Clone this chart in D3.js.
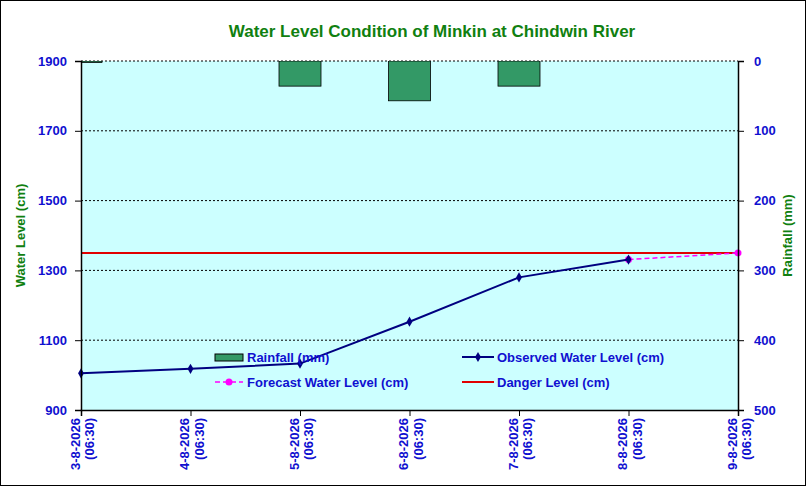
<!DOCTYPE html>
<html lang="en">
<head>
<meta charset="UTF-8">
<script src="https://d3js.org/d3.v7.min.js"></script>
<style>
  body { margin: 0; background: #fff; }
  text { font-family: "Liberation Sans Narrow", "Arial Narrow", "Liberation Sans", sans-serif; font-weight: bold; }
</style>
</head>
<body>
<script>
  // chart data
  const dates = ['3-8-2026', '4-8-2026', '5-8-2026', '6-8-2026', '7-8-2026', '8-8-2026', '9-8-2026'];
  const rainfall = [2, null, 36, 57, 36, null, null];
  const observed = [1005, 1018, 1033, 1153, 1280, 1331, null];
  const forecast = [null, null, null, null, null, 1331, 1350];
  const danger = 1350;
  const levelTicks = [900, 1100, 1300, 1500, 1700, 1900];
  const rainTicks = [0, 100, 200, 300, 400, 500];

  const W = 809, H = 489;
  const L = 81, R = 738, T = 61, B = 410;
  const blue = '#1010d0', green = '#108010';

  const svg = d3.select('body').append('svg').attr('width', W).attr('height', H);
  svg.append('rect').attr('x', 0.5).attr('y', 0.5).attr('width', 805).attr('height', 485)
    .attr('fill', '#fff').attr('stroke', '#000');

  const x = d3.scalePoint().domain(d3.range(dates.length)).range([L, R]);
  const y = d3.scaleLinear().domain([900, 1900]).range([B, T]);
  const yr = d3.scaleLinear().domain([0, 500]).range([T, B]);

  svg.append('rect').attr('x', L).attr('y', T).attr('width', R - L).attr('height', B - T)
    .attr('fill', '#ccffff');

  // gridlines
  svg.selectAll('.grid').data(levelTicks.slice(1)).enter().append('line')
    .attr('x1', L).attr('x2', R).attr('y1', d => y(d)).attr('y2', d => y(d))
    .attr('stroke', '#000').attr('stroke-dasharray', '2,2').attr('stroke-width', 1);

  // rainfall bars (clipped to plot)
  svg.append('clipPath').attr('id', 'plot').append('rect')
    .attr('x', L).attr('y', T).attr('width', R - L).attr('height', B - T);
  const bw = 42;
  svg.append('g').attr('clip-path', 'url(#plot)').selectAll('rect')
    .data(rainfall.map((v, i) => ({ v, i })).filter(d => d.v != null)).enter().append('rect')
    .attr('x', d => x(d.i) - bw / 2).attr('y', yr(0)).attr('width', bw)
    .attr('height', d => yr(d.v) - yr(0))
    .attr('fill', '#339966').attr('stroke', '#000').attr('stroke-width', 0.8);

  // danger line
  svg.append('line').attr('x1', L).attr('x2', R).attr('y1', y(danger)).attr('y2', y(danger))
    .attr('stroke', '#e00000').attr('stroke-width', 2);

  const line = d3.line().defined(d => d.v != null).x(d => x(d.i)).y(d => y(d.v));
  const obs = observed.map((v, i) => ({ v, i }));
  const fc = forecast.map((v, i) => ({ v, i }));

  svg.append('path').datum(fc).attr('d', line).attr('fill', 'none')
    .attr('stroke', '#ff00ff').attr('stroke-width', 1.5).attr('stroke-dasharray', '5,3');
  svg.selectAll('.fc').data(fc.filter(d => d.v != null)).enter().append('circle')
    .attr('cx', d => x(d.i)).attr('cy', d => y(d.v)).attr('r', 3.5).attr('fill', '#ff00ff');

  svg.append('path').datum(obs).attr('d', line).attr('fill', 'none')
    .attr('stroke', '#000080').attr('stroke-width', 2);
  svg.selectAll('.ob').data(obs.filter(d => d.v != null)).enter().append('path')
    .attr('transform', d => `translate(${x(d.i)},${y(d.v)})`)
    .attr('d', d3.symbol(d3.symbolDiamond, 30)).attr('fill', '#000080');

  // axes
  const axL = svg.append('g').attr('transform', `translate(${L},0)`)
    .call(d3.axisLeft(y).tickValues(levelTicks).tickFormat(d3.format('d')).tickSize(6).tickPadding(8));
  const axR = svg.append('g').attr('transform', `translate(${R},0)`)
    .call(d3.axisRight(yr).tickValues(rainTicks).tickFormat(d3.format('d')).tickSize(6).tickPadding(10));
  const axB = svg.append('g').attr('transform', `translate(0,${B})`)
    .call(d3.axisBottom(x).tickSize(6).tickFormat(''));
  [axL, axR, axB].forEach(a => {
    a.select('.domain').attr('stroke', '#000').attr('stroke-width', 1.5);
    a.selectAll('line').attr('stroke', '#000');
    a.selectAll('text').attr('fill', blue).style('font-size', '13px')
      .style('font-family', '"Liberation Sans Narrow", "Liberation Sans", sans-serif').style('font-weight', 'bold');
  });

  // date labels
  const dl = svg.append('g').selectAll('text').data(dates).enter().append('text')
    .attr('transform', (d, i) => `translate(${x(i)},418) rotate(-90)`)
    .attr('text-anchor', 'end').attr('fill', blue).style('font-size', '13px');
  dl.append('tspan').attr('x', 0).attr('dy', '-0.1em').text(d => d);
  dl.append('tspan').attr('x', 0).attr('dy', '1.1em').text('(06:30)');

  // titles
  svg.append('text').attr('x', 432).attr('y', 37).attr('text-anchor', 'middle')
    .attr('fill', green).style('font-size', '17px').text('Water Level Condition of Minkin at Chindwin River');
  svg.append('text').attr('transform', `translate(25,${(T + B) / 2}) rotate(-90)`)
    .attr('text-anchor', 'middle').attr('fill', green).style('font-size', '13px').text('Water Level (cm)');
  svg.append('text').attr('transform', `translate(792,${(T + B) / 2}) rotate(-90)`)
    .attr('text-anchor', 'middle').attr('fill', green).style('font-size', '13px').text('Rainfall (mm)');

  // legend
  const lg = svg.append('g').style('font-size', '13px');
  lg.append('rect').attr('x', 215).attr('y', 354).attr('width', 28).attr('height', 7)
    .attr('fill', '#339966').attr('stroke', '#000');
  lg.append('text').attr('x', 247).attr('y', 362).attr('fill', blue).text('Rainfall (mm)');
  lg.append('line').attr('x1', 462).attr('x2', 494).attr('y1', 357).attr('y2', 357)
    .attr('stroke', '#000080').attr('stroke-width', 2);
  lg.append('path').attr('transform', 'translate(478,357)').attr('d', d3.symbol(d3.symbolDiamond, 30)).attr('fill', '#000080');
  lg.append('text').attr('x', 497).attr('y', 362).attr('fill', blue).text('Observed Water Level (cm)');
  lg.append('line').attr('x1', 215).attr('x2', 243).attr('y1', 382).attr('y2', 382)
    .attr('stroke', '#ff00ff').attr('stroke-width', 1.5).attr('stroke-dasharray', '5,3');
  lg.append('circle').attr('cx', 229).attr('cy', 382).attr('r', 3.5).attr('fill', '#ff00ff');
  lg.append('text').attr('x', 247).attr('y', 387).attr('fill', blue).text('Forecast Water Level (cm)');
  lg.append('line').attr('x1', 462).attr('x2', 494).attr('y1', 382).attr('y2', 382)
    .attr('stroke', '#e00000').attr('stroke-width', 2);
  lg.append('text').attr('x', 497).attr('y', 387).attr('fill', blue).text('Danger Level (cm)');
</script>
</body>
</html>
